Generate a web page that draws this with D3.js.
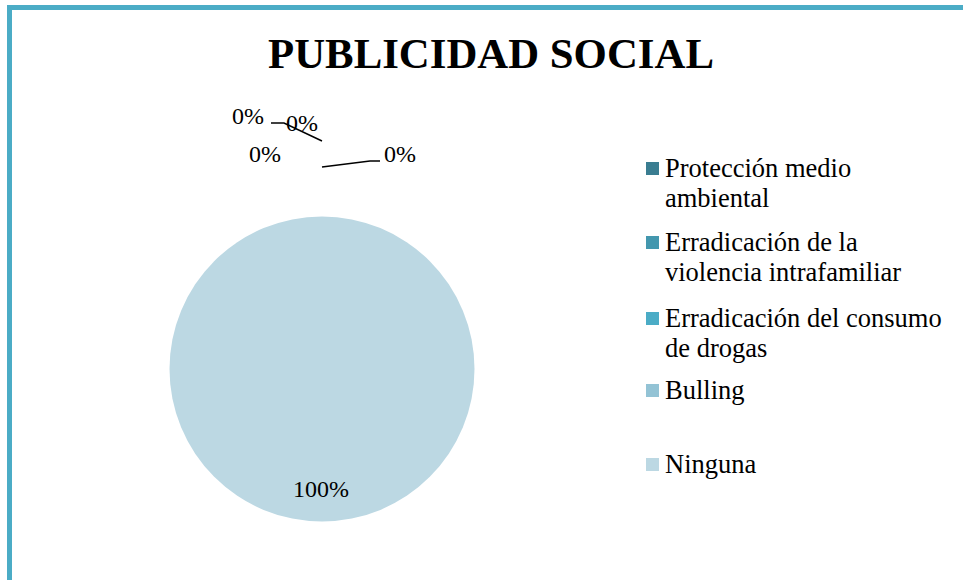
<!DOCTYPE html>
<html><head><meta charset="utf-8">
<script src="https://cdn.jsdelivr.net/npm/d3@7"></script>
<style>body{margin:0;background:#fff}svg{display:block}</style>
</head><body><svg id="c" width="963" height="580"></svg>
<script>
const categories = ["Protección medio ambiental","Erradicación de la violencia intrafamiliar","Erradicación del consumo de drogas","Bulling","Ninguna"];
const legendLines = [["Protección medio","ambiental"],["Erradicación de la","violencia intrafamiliar"],["Erradicación del consumo","de drogas"],["Bulling"],["Ninguna"]];
const values = [0,0,0,0,100];
const colors = ["#3A7D91","#4397AE","#4BACC6","#93C3D5","#BCD8E3"];
const title = "PUBLICIDAD SOCIAL";

const FONT = '"Liberation Serif", "Times New Roman", serif';
const svg = d3.select("#c");
// frame
svg.append("path").attr("d","M9.5,600 L9.5,7.5 L1000,7.5").attr("fill","none").attr("stroke","#4BACC6").attr("stroke-width",5);

svg.append("text").attr("x",491).attr("y",68).attr("text-anchor","middle").style("font-family",FONT)
  .attr("font-size",42.8).attr("font-weight","bold").text(title);

const cx=322, cy=369, r=152.5;
const total = d3.sum(values);
const pie = d3.pie().sort(null).value(d=>d)(values);
const arc = d3.arc().innerRadius(0).outerRadius(r);
const g = svg.append("g").attr("transform",`translate(${cx},${cy})`);
g.selectAll("path").data(pie).enter().append("path").attr("d",arc).attr("fill",(d,i)=>colors[i]);

// labels (Excel-style placement for zero slices)
const pct = d=>Math.round(d.value/total*100)+"%";
const labelPos = [[248,124],[302,131],[265,162],[400,162],[321,497]];
svg.selectAll("text.lbl").data(pie).enter().append("text").attr("class","lbl").style("font-family",FONT)
  .attr("x",(d,i)=>labelPos[i][0]).attr("y",(d,i)=>labelPos[i][1])
  .attr("text-anchor","middle").attr("font-size",24).text(pct);
const leaders = [[[271,123],[284,123],[322,141]],[[322,167],[370,161],[380,161]]];
svg.selectAll("path.ld").data(leaders).enter().append("path").attr("class","ld")
  .attr("d",d3.line()).attr("fill","none").attr("stroke","#000").attr("stroke-width",1.5);

// legend
const legendY = [177,251,327,399,473];
const lg = svg.append("g");
categories.forEach((c,i)=>{
  lg.append("rect").attr("x",646).attr("y",legendY[i]-15).attr("width",13).attr("height",13).attr("fill",colors[i]);
  const t = lg.append("text").attr("x",665).attr("y",legendY[i]).attr("font-size",26.5).style("font-family",FONT);
  legendLines[i].forEach((l,j)=>t.append("tspan").attr("x",665).attr("dy",j?30:0).text(l));
});
</script></body></html>
